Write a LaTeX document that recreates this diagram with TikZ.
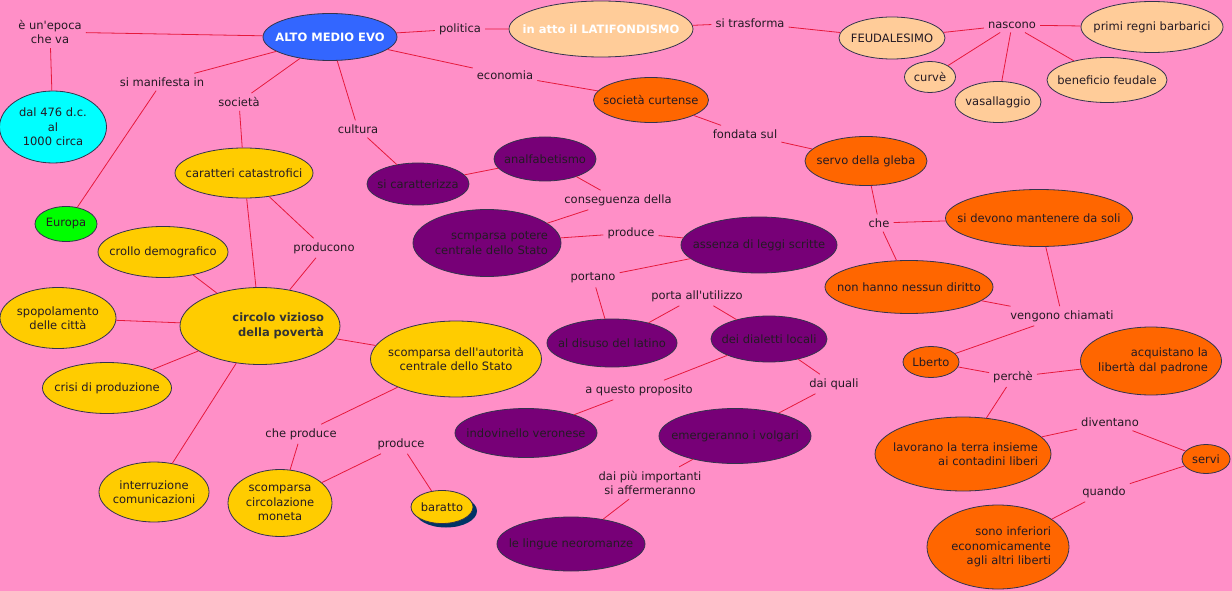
\documentclass[tikz,border=0pt]{standalone}
\usepackage{fontspec}
\setmainfont{DejaVu Sans}[Ligatures=TeXOff]
\usepackage{tikz}
\usepackage{xcolor}
\usetikzlibrary{shapes.geometric,shadows}
\definecolor{sfondo}{HTML}{FF8FC7}
\definecolor{blu}{HTML}{3366FF}
\definecolor{pesca}{HTML}{FFCC99}
\definecolor{arancio}{HTML}{FF6600}
\definecolor{giallo}{HTML}{FFCC00}
\definecolor{viola}{HTML}{770077}
\definecolor{ciano}{HTML}{00FFFF}
\definecolor{verde}{HTML}{00FF00}
\definecolor{ombra}{HTML}{003366}
\definecolor{bordo}{HTML}{33334D}
\definecolor{linea}{HTML}{E6193C}
\definecolor{testo}{HTML}{241A24}
\newcommand\mapfont{\fontsize{11.5}{14.5}\selectfont}
\tikzset{
  concept/.style={ellipse, draw=bordo, line width=0.8pt, inner xsep=-30pt,
                  inner ysep=-12pt, align=center, text=testo, font=\mapfont},
  wh/.style 2 args={minimum width=#1pt, minimum height=#2pt},
  cblu/.style={concept, fill=blu, text=white, font=\mapfont\bfseries},
  cpesca/.style={concept, fill=pesca},
  carancio/.style={concept, fill=arancio},
  cgiallo/.style={concept, fill=giallo},
  cviola/.style={concept, fill=viola},
  lbl/.style={inner sep=4pt, align=center, text=testo, font=\mapfont},
  link/.style={draw=linea, line width=0.8pt}
}

\begin{document}
\begin{tikzpicture}[x=1pt,y=-1pt]
  \useasboundingbox (0,0) rectangle (1232,591);
  \fill[sfondo] (0,0) rectangle (1232,591);

  % ===== top row: politica =====
  \node[cblu, wh={134}{47}] (alto) at (330,37) {ALTO MEDIO EVO};
  \node[cpesca, wh={184}{56}, text=white, font=\mapfont\bfseries] (latif) at (601,29) {in atto il LATIFONDISMO};
  \node[cpesca, wh={106}{42}] (feud) at (892,38) {FEUDALESIMO};
  \node[cpesca, wh={142}{51}] (regni) at (1152,27) {primi regni barbarici};
  \node[cpesca, wh={51}{31}] (curve) at (930,77) {curvè};
  \node[cpesca, wh={86}{41}] (vass) at (998,102) {vasallaggio};
  \node[cpesca, wh={120}{45}] (benef) at (1107,80) {beneficio feudale};
  \node[lbl] (epoca) at (50,32) {è un'epoca\\che va};
  \node[concept, fill=ciano, wh={107}{72}] (dal) at (53,127) {dal 476 d.c.\\al\\1000 circa};
  \node[lbl] (politica) at (460,29) {politica};
  \node[lbl] (trasforma) at (750,23) {si trasforma};
  \node[lbl] (nascono) at (1012,25) {nascono};

  % ===== società: circolo vizioso =====
  \node[lbl] (manifesta) at (162,82) {si manifesta in};
  \node[concept, fill=verde, wh={62}{35}] (europa) at (66,224) {Europa};
  \node[lbl] (societa) at (239,102) {società};
  \node[cgiallo, wh={138}{50}] (catastr) at (244,173) {caratteri catastrofici};
  \node[lbl] (producono) at (324,248) {producono};
  \node[cgiallo, wh={130}{51}] (crollo) at (163,252) {crollo demografico};
  \node[cgiallo, wh={116}{61}] (spopol) at (58,318) {spopolamento\\delle città};
  \node[cgiallo, wh={160}{77}, text width=128pt, align=right, font=\mapfont\bfseries,
        text=black!80] (circolo) at (260,326) {circolo vizioso\\della povertà};
  \node[cgiallo, wh={129}{51}] (crisi) at (107,388) {crisi di produzione};
  \node[cgiallo, wh={110}{60}] (interr) at (154,492) {interruzione\\comunicazioni};
  \node[cgiallo, wh={171}{76}] (autorita) at (456,359) {scomparsa dell'autorità\\centrale dello Stato};
  \node[lbl] (cheprod) at (301,434) {che produce};
  \node[cgiallo, wh={104}{67}] (moneta) at (280,503) {scomparsa\\circolazione\\moneta};
  \node[lbl] (produceB) at (401,444) {produce};
  \node[cgiallo, wh={62}{33}, drop shadow={shadow xshift=4pt, shadow yshift=-4pt,
        fill=ombra, opacity=1}] (baratto) at (442,507) {baratto};

  % ===== cultura =====
  \node[lbl] (cultura) at (358,129) {cultura};
  \node[cviola, wh={102}{42}] (caratt) at (418,184) {si caratterizza};
  \node[cviola, wh={102}{44}] (analf) at (545,159) {analfabetismo};
  \node[lbl] (conseg) at (618,200) {conseguenza della};
  \node[cviola, wh={148}{67}, text width=122pt, align=right] (potere) at (487,243) {scmparsa potere\\centrale dello Stato};
  \node[lbl] (produceA) at (631,233) {produce};
  \node[cviola, wh={156}{56}] (leggi) at (759,245) {assenza di leggi scritte};
  \node[lbl] (portano) at (593,278) {portano};
  \node[lbl] (utilizzo) at (697,296) {porta all'utilizzo};
  \node[cviola, wh={130}{48}] (latino) at (612,343) {al disuso del latino};
  \node[cviola, wh={116}{46}] (dialetti) at (769,339) {dei dialetti locali};
  \node[lbl] (proposito) at (639,390) {a questo proposito};
  \node[lbl] (daiquali) at (834,384) {dai quali};
  \node[cviola, wh={142}{49}] (indov) at (526,433) {indovinello veronese};
  \node[cviola, wh={152}{55}] (volgari) at (735,436) {emergeranno i volgari};
  \node[lbl] (importanti) at (650,483) {dai più importanti\\si affermeranno};
  \node[cviola, wh={148}{54}] (neorom) at (571,544) {le lingue neoromanze};

  % ===== economia =====
  \node[lbl] (economia) at (505,75) {economia};
  \node[carancio, wh={115}{45}] (curtense) at (651,100) {società curtense};
  \node[lbl] (fondata) at (745,134) {fondata sul};
  \node[carancio, wh={122}{49}] (gleba) at (866,161) {servo della gleba};
  \node[lbl] (che) at (879,223) {che};
  \node[carancio, wh={187}{57}] (devono) at (1039,218) {si devono mantenere da soli};
  \node[carancio, wh={168}{53}] (diritto) at (909,287) {non hanno nessun diritto};
  \node[lbl] (chiamati) at (1062,316) {vengono chiamati};
  \node[carancio, wh={56}{31}] (lberto) at (931,362) {Lberto};
  \node[lbl] (perche) at (1013,377) {perchè};
  \node[carancio, wh={141}{68}, text width=114pt, align=right] (libera) at (1151,361) {acquistano la\\libertà dal padrone};
  \node[carancio, wh={176}{74}, text width=150pt, align=right] (lavorano) at (963,454) {lavorano la terra insieme\\ai contadini liberi};
  \node[lbl] (diventano) at (1110,422) {diventano};
  \node[carancio, wh={48}{29}] (servi) at (1206,459) {servi};
  \node[lbl] (quando) at (1104,492) {quando};
  \node[carancio, wh={142}{84}, text width=106pt, align=right] (inferiori) at (998,547) {sono inferiori\\economicamente\\agli altri liberti};

  % ===== links =====
  \draw[link] (alto) -- (epoca) (epoca) -- (dal);
  \draw[link] (alto) -- (politica) (politica) -- (latif);
  \draw[link] (latif) -- (trasforma) (trasforma) -- (feud);
  \draw[link] (feud) -- (nascono) (nascono) -- (regni) (nascono) -- (curve)
              (nascono) -- (vass) (nascono) -- (benef);
  \draw[link] (alto) -- (manifesta) (manifesta) -- (europa);
  \draw[link] (alto) -- (societa) (societa) -- (catastr);
  \draw[link] (alto) -- (cultura) (cultura) -- (caratt);
  \draw[link] (alto) -- (economia) (economia) -- (curtense);
  \draw[link] (curtense) -- (fondata) (fondata) -- (gleba);
  \draw[link] (gleba) -- (che) (che) -- (devono) (che) -- (diritto);
  \draw[link] (devono) -- (chiamati) (diritto) -- (chiamati) (chiamati) -- (lberto);
  \draw[link] (lberto) -- (perche) (perche) -- (libera) (perche) -- (lavorano);
  \draw[link] (lavorano) -- (diventano) (diventano) -- (servi);
  \draw[link] (servi) -- (quando) (quando) -- (inferiori);
  \draw[link] (caratt) -- (analf);
  \draw[link] (analf) -- (conseg) (conseg) -- (potere);
  \draw[link] (potere) -- (produceA) (produceA) -- (leggi);
  \draw[link] (leggi) -- (portano) (portano) -- (latino);
  \draw[link] (latino) -- (utilizzo) (utilizzo) -- (dialetti);
  \draw[link] (dialetti) -- (proposito) (proposito) -- (indov);
  \draw[link] (dialetti) -- (daiquali) (daiquali) -- (volgari);
  \draw[link] (volgari) -- (importanti) (importanti) -- (neorom);
  \draw[link] (catastr) -- (circolo) (catastr) -- (producono) (producono) -- (circolo);
  \draw[link] (circolo) -- (crollo) (circolo) -- (spopol) (circolo) -- (crisi)
              (circolo) -- (interr) (circolo) -- (autorita);
  \draw[link] (autorita) -- (cheprod) (cheprod) -- (moneta);
  \draw[link] (moneta) -- (produceB) (produceB) -- (baratto);
\end{tikzpicture}
\end{document}
